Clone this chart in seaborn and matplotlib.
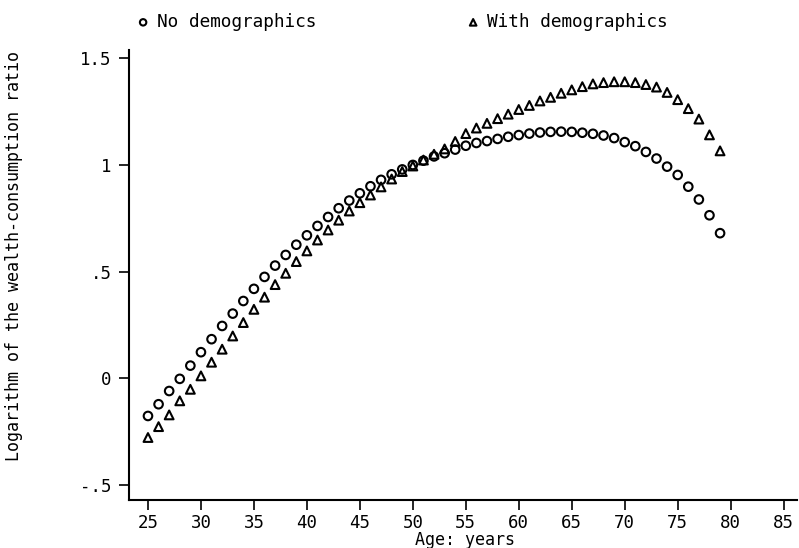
import matplotlib
matplotlib.use("Agg")
import matplotlib.pyplot as plt
import seaborn as sns
import pandas as pd

ages = list(range(25, 80))
no_demographics = [
    -0.177, -0.122, -0.060, -0.003, 0.059, 0.122, 0.183, 0.245, 0.303, 0.362,
    0.419, 0.475, 0.528, 0.578, 0.626, 0.670, 0.714, 0.756, 0.797, 0.833,
    0.867, 0.900, 0.930, 0.956, 0.979, 1.000, 1.020, 1.040, 1.055, 1.072,
    1.090, 1.103, 1.112, 1.122, 1.132, 1.140, 1.147, 1.152, 1.155, 1.156,
    1.155, 1.151, 1.146, 1.138, 1.126, 1.107, 1.088, 1.061, 1.030, 0.992,
    0.953, 0.898, 0.838, 0.764, 0.680,
]
with_demographics = [
    -0.278, -0.227, -0.172, -0.106, -0.052, 0.011, 0.075, 0.136, 0.198, 0.261,
    0.323, 0.380, 0.439, 0.492, 0.547, 0.597, 0.648, 0.695, 0.741, 0.784,
    0.823, 0.859, 0.897, 0.934, 0.969, 0.995, 1.023, 1.050, 1.075, 1.110,
    1.147, 1.173, 1.195, 1.217, 1.238, 1.260, 1.279, 1.300, 1.317, 1.336,
    1.352, 1.367, 1.380, 1.386, 1.390, 1.390, 1.386, 1.377, 1.365, 1.340,
    1.306, 1.264, 1.215, 1.141, 1.066,
]
series_labels = ["No demographics", "With demographics"]
x_ticks = [25, 30, 35, 40, 45, 50, 55, 60, 65, 70, 75, 80, 85]
y_ticks = [-0.5, 0, 0.5, 1, 1.5]
y_tick_labels = ["-.5", "0", ".5", "1", "1.5"]

df1 = pd.DataFrame({"age": ages, "value": no_demographics})
df2 = pd.DataFrame({"age": ages, "value": with_demographics})

sns.set_style("white")
plt.rcParams["font.family"] = ["DejaVu Sans Mono", "DejaVu Sans"]
plt.rcParams["text.color"] = "black"
plt.rcParams["axes.labelcolor"] = "black"
plt.rcParams["xtick.color"] = "black"
plt.rcParams["ytick.color"] = "black"

fig = plt.figure(figsize=(7.99, 5.48), dpi=100)
ax = fig.add_axes([0.162, 0.0876, 0.836, 0.8212])

sns.scatterplot(data=df1, x="age", y="value", ax=ax, marker="o", s=38,
                facecolor="none", edgecolor="black", linewidth=1.5,
                label=series_labels[0])
sns.scatterplot(data=df2, x="age", y="value", ax=ax, marker="^", s=40,
                facecolor="none", edgecolor="black", linewidth=1.5,
                label=series_labels[1])

ax.set_xlim(23.25, 86.3)
ax.set_ylim(-0.571, 1.539)
ax.set_xticks(x_ticks)
ax.set_xticklabels([str(t) for t in x_ticks])
ax.set_yticks(y_ticks)
ax.set_yticklabels(y_tick_labels)

for side in ["top", "right"]:
    ax.spines[side].set_visible(False)
for side in ["left", "bottom"]:
    ax.spines[side].set_linewidth(1.5)
    ax.spines[side].set_color("black")

ax.tick_params(axis="both", which="major", direction="out", length=7,
               width=1.2, color="black", labelcolor="black", labelsize=12.5,
               bottom=True, left=True)
ax.tick_params(axis="x", pad=3)
ax.tick_params(axis="y", pad=6)

axw = 0.836 * 799
axh = 0.8212 * 548
ax.set_xlabel("Age: years", fontsize=12, color="black")
ax.xaxis.set_label_coords((465 - 129.5) / axw, -(531 - 500) / axh)
ax.xaxis.label.set_va("top")
ax.set_ylabel("Logarithm of the wealth-consumption ratio", fontsize=12,
              color="black")
ax.yaxis.set_label_coords((14 - 129.5) / axw, (500 - 256) / axh)
ax.yaxis.label.set_va("center")

leg = ax.legend(loc="center", ncol=2, frameon=False,
                fontsize=12.8, handlelength=0.8, handletextpad=0.4,
                columnspacing=8.4, markerscale=0.75, labelcolor="black")
leg.set_bbox_to_anchor((402 / 799, 1 - 22 / 548), transform=fig.transFigure)

fig.savefig("out.png", dpi=100)
